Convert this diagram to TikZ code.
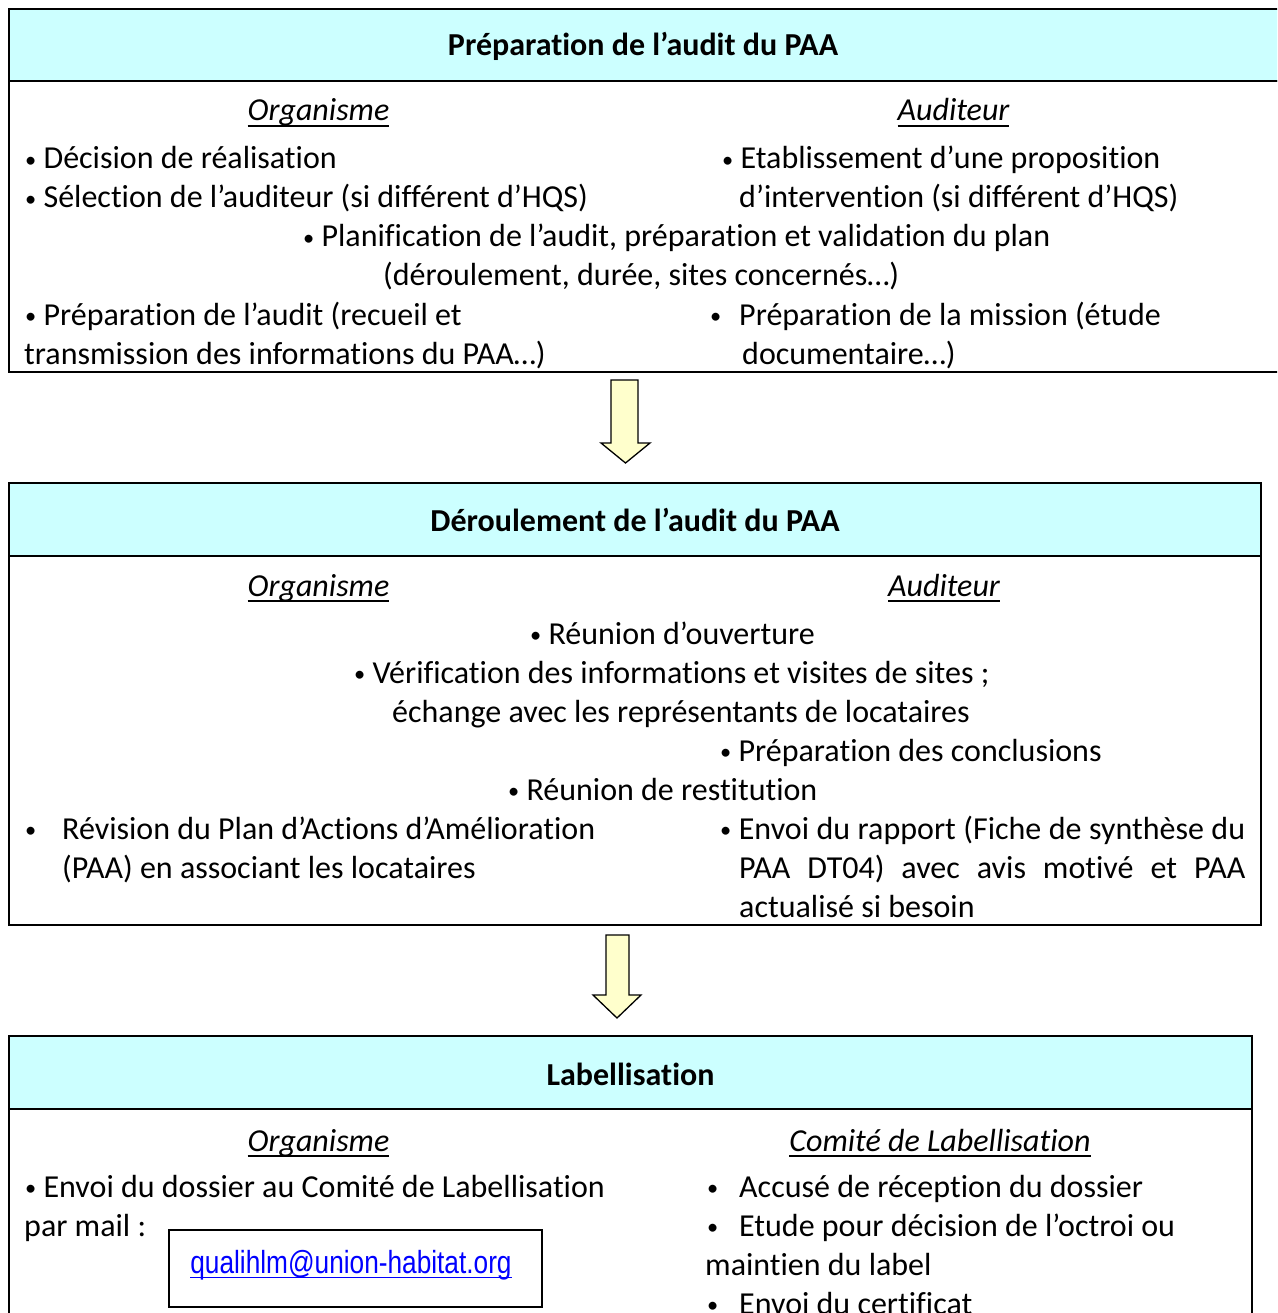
\documentclass[tikz,border=0pt]{standalone}
\usepackage{fontspec}
\setmainfont{Carlito}[Ligatures=NoCommon]
\newfontfamily\arialf{Liberation Sans}
\definecolor{hdrcyan}{HTML}{CCFFFF}
\definecolor{arrowyellow}{HTML}{FFFFCC}
\definecolor{linkblue}{HTML}{0000FF}
\newcommand\myul[1]{\setbox0\hbox{#1}\rlap{\rule[-6pt]{\wd0}{1.6pt}}\box0}
\newcommand\myulb[2]{\setbox0\hbox{#1}\rlap{\color{#2}\rule[-5pt]{\wd0}{1.4pt}}\box0}
\newcommand\bul{\raisebox{1.5pt}{\scalebox{0.7}{•}}}
\begin{document}
\begin{tikzpicture}[x=1pt,y=-1pt,
  txt/.style={inner sep=0pt, anchor=base west, font=\fontsize{32}{39}\selectfont},
  ctr/.style={inner sep=0pt, anchor=base, font=\fontsize{32}{39}\selectfont\itshape},
  hdr/.style={inner sep=0pt, anchor=base, font=\fontsize{32}{39}\selectfont\bfseries},
  frame/.style={draw=black, line width=2pt},
  hdrbox/.style={frame, fill=hdrcyan},
  blockarrow/.style={draw=black, line width=1.3pt, fill=arrowyellow, line join=miter}]
\useasboundingbox (0,0) rectangle (1277,1313);
\clip (0,0) rectangle (1277,1313);
\fill[white] (0,0) rectangle (1277,1313);

% ---------- Box 1 ----------
\draw[hdrbox] (9,9) rectangle (1280,81);
\draw[frame] (9,81) rectangle (1280,372);
\node[hdr] (h1) at (643,56) {Préparation de l’audit du PAA};
\node[ctr] (o1) at (318.5,121) {\myul{Organisme}};
\node[ctr] (a1) at (953.5,121) {\myul{Auditeur}};
\node[txt] (t11) at (25,169) {\bul\ Décision de réalisation};
\node[txt] (t12) at (25,208) {\bul\ Sélection de l’auditeur (si différent d’HQS)};
\node[txt] (t13) at (722,169) {\bul\ Etablissement d’une proposition};
\node[txt] (t14) at (739,208) {d’intervention (si différent d’HQS)};
\node[txt] (t15) at (303,247) {\bul\ Planification de l’audit, préparation et validation du plan};
\node[txt] (t16) at (383,286) {(déroulement, durée, sites concernés…)};
\node[txt] (t17) at (25,325) {\bul\ Préparation de l’audit (recueil et};
\node[txt] (t18) at (24,364) {transmission des informations du PAA…)};
\node[txt] (t19b) at (710,325) {\bul};
\node[txt] (t19) at (739,325) {Préparation de la mission (étude};
\node[txt] (t110) at (742,364) {documentaire…)};

% ---------- Arrow 1 ----------
\draw[blockarrow] (611,380) -- (638,380) -- (638,443) -- (650,443) -- (625.5,463)
  -- (601,443) -- (611,443) -- cycle;

% ---------- Box 2 ----------
\draw[hdrbox] (9,483) rectangle (1261,556);
\draw[frame] (9,556) rectangle (1261,925);
\node[hdr] (h2) at (635,531) {Déroulement de l’audit du PAA};
\node[ctr] (o2) at (318.5,596) {\myul{Organisme}};
\node[ctr] (a2) at (944,596) {\myul{Auditeur}};
\node[txt] (t21) at (530,644) {\bul\ Réunion d’ouverture};
\node[txt] (t22) at (354,683) {\bul\ Vérification des informations et visites de sites ;};
\node[txt] (t23) at (392,722) {échange avec les représentants de locataires};
\node[txt] (t24) at (720,761) {\bul\ Préparation des conclusions};
\node[txt] (t25) at (508,800) {\bul\ Réunion de restitution};
\node[txt] (t26b) at (25,839) {\bul};
\node[txt] (t26) at (62,839) {Révision du Plan d’Actions d’Amélioration};
\node[txt] (t27) at (62,878) {(PAA) en associant les locataires};
\node[txt] (t28) at (720,839) {\makebox[525pt][s]{\bul\ Envoi du rapport (Fiche de synthèse du}};
\node[txt] (t29) at (739,878) {\makebox[506pt][s]{PAA DT04) avec avis motivé et PAA}};
\node[txt] (t210) at (739,917) {actualisé si besoin};

% ---------- Arrow 2 ----------
\draw[blockarrow] (606,935) -- (629,935) -- (629,995) -- (641,995) -- (617,1018)
  -- (593,995) -- (606,995) -- cycle;

% ---------- Box 3 ----------
\draw[hdrbox] (9,1036) rectangle (1252,1109);
\draw[frame] (9,1109) rectangle (1252,1340);
\node[hdr] (h3) at (630.5,1085) {Labellisation};
\node[ctr] (o3) at (318.5,1151) {\myul{Organisme}};
\node[ctr] (c3) at (940,1151) {\myul{Comité de Labellisation}};
\node[txt] (t31) at (25,1197) {\bul\ Envoi du dossier au Comité de Labellisation};
\node[txt] (t32) at (24,1236) {par mail :};
\draw[line width=2pt] (169,1230) rectangle (542,1307);
\node[inner sep=0pt, anchor=base] (mail) at (351,1273)
  {\scalebox{0.82}[1]{\fontsize{32}{39}\arialf\color{linkblue}\myulb{qualihlm@union-habitat.org}{linkblue}}};
\node[txt] (t33b) at (707,1197) {\bul};
\node[txt] (t33) at (739,1197) {Accusé de réception du dossier};
\node[txt] (t34b) at (707,1236) {\bul};
\node[txt] (t34) at (739,1236) {Etude pour décision de l’octroi ou};
\node[txt] (t35) at (705,1275) {maintien du label};
\node[txt] (t36b) at (707,1314) {\bul};
\node[txt] (t36) at (739,1314) {Envoi du certificat};
\end{tikzpicture}
\end{document}
